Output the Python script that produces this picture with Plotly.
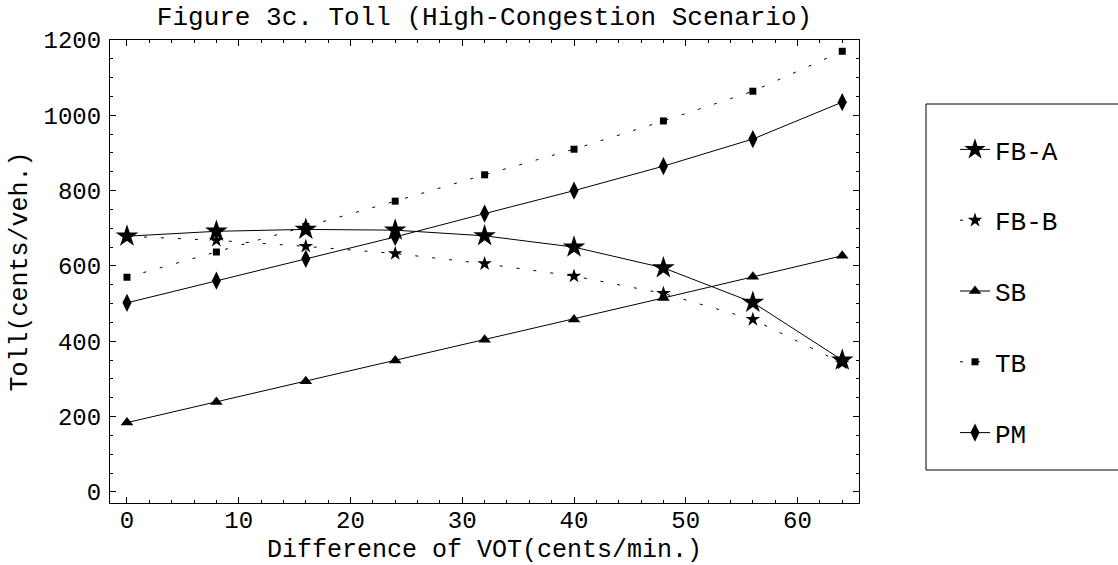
import plotly.graph_objects as go

# Data
vot = [0, 8, 16, 24, 32, 40, 48, 56, 64]
fb_a = [679, 692, 697, 695, 680, 650, 595, 503, 350]
fb_b = [679, 668, 652, 633, 606, 573, 527, 458, 342]
sb = [184, 239, 294, 349, 404, 458, 515, 571, 627]
tb = [570, 637, 705, 772, 842, 910, 985, 1064, 1170]
pm = [502, 561, 619, 677, 739, 800, 865, 937, 1035]

series_names = ["FB-A", "FB-B", "SB", "TB", "PM"]
x_ticks = [0, 10, 20, 30, 40, 50, 60]
y_ticks = [0, 200, 400, 600, 800, 1000, 1200]

FONT = "Liberation Mono, Courier New, monospace"
FS_TICK = 24
FS_TITLE = 25
FS = 26
DOT = "3px,14px"

styles = [
    dict(symbol="star", size=17, dash="solid"),
    dict(symbol="star", size=11, dash=DOT),
    dict(symbol="triangle-up", size=11, dash="solid"),
    dict(symbol="square", size=7, dash=DOT),
    dict(symbol="diamond-tall", size=13, dash="solid"),
]
values = [fb_a, fb_b, sb, tb, pm]

fig = go.Figure()
for name, vals, st in zip(series_names, values, styles):
    fig.add_trace(go.Scatter(
        x=vot, y=vals, name=name, mode="lines+markers",
        legendgroup=name,
        line=dict(color="black", width=1, dash=st["dash"]),
        marker=dict(symbol=st["symbol"], size=st["size"], color="black",
                    line=dict(width=0)),
    ))

W, H = 1118, 565
L, R, T, B = 110, 259, 40, 62
pw = W - L - R
ph = H - T - B

def px_x(p):
    return (p - L) / pw

def px_y(p):
    return (H - B - p) / ph

axis_common = dict(
    showline=True, linecolor="black", linewidth=1.2, mirror="ticks",
    ticks="inside", ticklen=6, tickwidth=1, tickcolor="black",
    showgrid=False, zeroline=False,
    tickfont=dict(family=FONT, size=FS_TICK, color="black"),
)

fig.update_layout(
    width=W, height=H,
    margin=dict(l=L, r=R, t=T, b=B, pad=0, autoexpand=False),
    paper_bgcolor="white", plot_bgcolor="white",
    font=dict(family=FONT, size=FS, color="black"),
    title=dict(text="Figure 3c. Toll (High-Congestion Scenario)",
               x=0.5, xref="paper", xanchor="center",
               y=1 - 16 / H, yref="container", yanchor="middle",
               font=dict(family=FONT, size=FS, color="black")),
    xaxis=dict(**axis_common, range=[-1.52, 65.5], tickvals=x_ticks,
               ticklabelstandoff=-5,
               minor=dict(dtick=2, tick0=0, ticks="inside", ticklen=3,
                          tickcolor="black", showgrid=False),
               title=dict(text="Difference of VOT(cents/min.)", standoff=9,
                          font=dict(family=FONT, size=FS_TITLE, color="black"))),
    yaxis=dict(**axis_common, range=[-29.5, 1200], tickvals=y_ticks,
               ticklabelstandoff=3,
               minor=dict(dtick=50, tick0=0, ticks="inside", ticklen=3,
                          tickcolor="black", showgrid=False),
               title=dict(text="Toll(cents/veh.)", standoff=8,
                          font=dict(family=FONT, size=FS_TITLE, color="black"))),
    legend=dict(x=px_x(955), xanchor="left", y=px_y(126), yanchor="top",
                bgcolor="rgba(0,0,0,0)", borderwidth=0,
                tracegroupgap=34, traceorder="grouped",
                font=dict(family=FONT, size=FS, color="black")),
    shapes=[dict(type="rect", xref="paper", yref="paper",
                 x0=px_x(926), x1=px_x(1130), y0=px_y(470), y1=px_y(104),
                 line=dict(color="black", width=1))],
)

fig.write_html("out.html")
